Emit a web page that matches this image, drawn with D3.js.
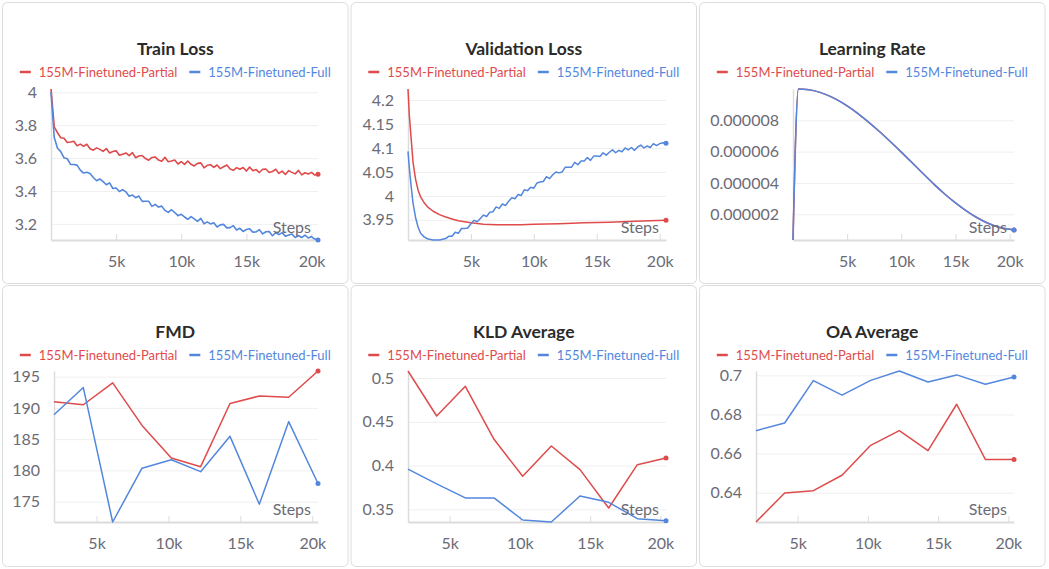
<!DOCTYPE html>
<html>
<head>
<meta charset="utf-8">
<script src="https://cdn.jsdelivr.net/npm/d3@7"></script>
<style>
  body { margin: 0; background: #fff; }
  svg { font-family: Lato, "Noto Sans", sans-serif; }
</style>
</head>
<body>
<div id="chart"></div>
<script>
// ---- Data ----
const seriesNames = ['155M-Finetuned-Partial', '155M-Finetuned-Full']

// Train loss is logged every 250 steps
const trainInterval = 250
const trainPartial = [
  4.020, 3.790, 3.754, 3.724, 3.721, 3.695, 3.698, 3.702, 3.675, 3.685,
  3.672, 3.684, 3.657, 3.648, 3.662, 3.653, 3.641, 3.658, 3.631, 3.640,
  3.644, 3.617, 3.624, 3.631, 3.615, 3.633, 3.602, 3.613, 3.616, 3.597,
  3.587, 3.604, 3.607, 3.588, 3.581, 3.605, 3.578, 3.582, 3.588, 3.564,
  3.578, 3.562, 3.582, 3.562, 3.552, 3.568, 3.571, 3.541, 3.556, 3.560,
  3.543, 3.558, 3.536, 3.547, 3.558, 3.533, 3.526, 3.542, 3.532, 3.543,
  3.521, 3.545, 3.523, 3.530, 3.512, 3.532, 3.534, 3.512, 3.518, 3.532,
  3.507, 3.521, 3.500, 3.524, 3.513, 3.504, 3.525, 3.498, 3.511, 3.503,
  3.513, 3.497, 3.502
]
const trainFull = [
  4.000, 3.725, 3.660, 3.639, 3.602, 3.596, 3.562, 3.561, 3.557, 3.527,
  3.509, 3.514, 3.506, 3.482, 3.462, 3.473, 3.457, 3.438, 3.449, 3.415,
  3.418, 3.397, 3.408, 3.395, 3.368, 3.375, 3.359, 3.369, 3.337, 3.338,
  3.338, 3.306, 3.319, 3.302, 3.308, 3.282, 3.270, 3.286, 3.269, 3.250,
  3.258, 3.242, 3.228, 3.244, 3.230, 3.215, 3.233, 3.201, 3.212, 3.200,
  3.207, 3.181, 3.194, 3.197, 3.176, 3.177, 3.189, 3.163, 3.173, 3.154,
  3.166, 3.170, 3.150, 3.151, 3.165, 3.139, 3.152, 3.153, 3.128, 3.146,
  3.135, 3.147, 3.125, 3.133, 3.138, 3.117, 3.129, 3.117, 3.132, 3.114,
  3.123, 3.108, 3.102
]

// Validation loss: [step, value]
const valPartial = [
  [0, 4.223], [100, 4.17], [250, 4.12], [400, 4.07], [600, 4.035], [800, 4.012],
  [1000, 3.998], [1300, 3.985], [1600, 3.976], [2000, 3.968], [2500, 3.961],
  [3000, 3.956], [3500, 3.952], [4000, 3.948], [5000, 3.944], [6000, 3.941],
  [7000, 3.940], [8000, 3.940], [9000, 3.940], [10000, 3.941], [12000, 3.942],
  [14000, 3.944], [16000, 3.945], [18000, 3.947], [20500, 3.949]
]
const valFull = [
  [0, 4.093], [100, 4.06], [250, 4.02], [400, 3.985], [600, 3.955], [800, 3.935],
  [1000, 3.922], [1300, 3.914], [1600, 3.910], [2000, 3.908], [2500, 3.908],
  [3000, 3.911], [3250, 3.916], [3500, 3.916], [3750, 3.924], [4000, 3.922],
  [4250, 3.932], [4500, 3.932], [4750, 3.933], [5000, 3.942], [5250, 3.949],
  [5500, 3.946], [5750, 3.953], [6000, 3.960], [6250, 3.957], [6500, 3.966],
  [6750, 3.967], [7000, 3.977], [7250, 3.974], [7500, 3.983], [7750, 3.980],
  [8000, 3.989], [8250, 3.996], [8500, 3.994], [8750, 4.003], [9000, 4.001],
  [9250, 4.013], [9500, 4.011], [9750, 4.018], [10000, 4.016], [10250, 4.027],
  [10500, 4.029], [10750, 4.030], [11000, 4.040], [11250, 4.036], [11500, 4.044],
  [11750, 4.050], [12000, 4.048], [12250, 4.050], [12500, 4.060], [12750, 4.060],
  [13000, 4.060], [13250, 4.070], [13500, 4.065], [13750, 4.073], [14000, 4.073],
  [14250, 4.080], [14500, 4.074], [14750, 4.083], [15000, 4.083], [15250, 4.082],
  [15500, 4.090], [15750, 4.085], [16000, 4.091], [16250, 4.096], [16500, 4.090],
  [16750, 4.095], [17000, 4.092], [17250, 4.100], [17500, 4.096], [17750, 4.101],
  [18000, 4.095], [18250, 4.102], [18500, 4.106], [18750, 4.100], [19000, 4.104],
  [19250, 4.101], [19500, 4.109], [19750, 4.105], [20000, 4.109], [20250, 4.111],
  [20500, 4.110]
]

// Learning rate (both runs share the same schedule)
const lrSchedule = [
  [0, 3.6e-7], [500, 1.0e-5], [1000, 9.99e-6], [2000, 9.88e-6], [3000, 9.66e-6],
  [4000, 9.34e-6], [5000, 8.92e-6], [6000, 8.43e-6], [7000, 7.87e-6], [8000, 7.27e-6],
  [9000, 6.63e-6], [10000, 5.97e-6], [11000, 5.29e-6], [12000, 4.60e-6], [13000, 3.93e-6],
  [14000, 3.30e-6], [15000, 2.73e-6], [16000, 2.22e-6], [17000, 1.78e-6], [18000, 1.43e-6],
  [19000, 1.18e-6], [20000, 1.04e-6], [20400, 1.00e-6]
]

// Evaluation metrics, logged at these steps
const evalSteps = [2040, 4080, 6120, 8160, 10200, 12240, 14280, 16320, 18360, 20400]
const fmdPartial = [191.0, 190.5, 194.0, 187.2, 182.0, 180.6, 190.7, 191.9, 191.7, 195.9]
const fmdFull = [188.9, 193.25, 171.75, 180.35, 181.7, 179.8, 185.45, 174.6, 187.8, 177.9]
const kldPartial = [0.508, 0.4566, 0.4905, 0.430, 0.3877, 0.4223, 0.3953, 0.3515, 0.401, 0.4086]
const kldFull = [0.396, 0.379, 0.363, 0.363, 0.3378, 0.3355, 0.3652, 0.358, 0.3393, 0.337]
const oaPartial = [0.625, 0.6398, 0.641, 0.6489, 0.6642, 0.6717, 0.6615, 0.6852, 0.657, 0.657]
const oaFull = [0.6717, 0.6756, 0.6973, 0.6899, 0.6974, 0.7022, 0.6966, 0.7002, 0.6954, 0.6991]

// Tick values
const xTicks = [5000, 10000, 15000, 20000]
const trainTicks = [3.2, 3.4, 3.6, 3.8, 4]
const valTicks = [3.95, 4, 4.05, 4.1, 4.15, 4.2]
const lrTicks = [0.000002, 0.000004, 0.000006, 0.000008]
const fmdTicks = [175, 180, 185, 190, 195]
const kldTicks = [0.35, 0.4, 0.45, 0.5]
const oaTicks = [0.64, 0.66, 0.68, 0.7]

// ---- Styling ----
const colors = ['#df4b4b', '#5387dd']
const tickColor = '#6b6b76'
const width = 1049
const height = 569

const svg = d3.select('#chart')
  .append('svg')
  .attr('width', width)
  .attr('height', height)

const byIndex = (values, step) => values.map((v, i) => [i * step, v])
const byStep = (values) => values.map((v, i) => [evalSteps[i], v])

// Panel boxes and plot areas
const colX = [2.5, 351, 699.5]
const rowY = [2.5, 285.5]
const boxW = 345.5
const boxH = 281

const panels = [
  { title: 'Train Loss', col: 0, row: 0, left: 51, right: 318, top: 89, bottom: 240,
    series: [byIndex(trainPartial, trainInterval), byIndex(trainFull, trainInterval)],
    yTicks: trainTicks, fmt: d3.format(''), width: 1.6 },
  { title: 'Validation Loss', col: 1, row: 0, left: 408, right: 666, top: 89, bottom: 240,
    series: [valPartial, valFull], yTicks: valTicks, fmt: d3.format(''), width: 1.5 },
  { title: 'Learning Rate', col: 2, row: 0, left: 793, right: 1014, top: 89, bottom: 240,
    series: [lrSchedule, lrSchedule], yTicks: lrTicks, fmt: d3.format('.6f'), width: 1.5,
    curve: d3.curveMonotoneX },
  { title: 'FMD', col: 0, row: 1, left: 54, right: 318, top: 371, bottom: 522,
    series: [byStep(fmdPartial), byStep(fmdFull)], yTicks: fmdTicks, fmt: d3.format(''), width: 1.5 },
  { title: 'KLD Average', col: 1, row: 1, left: 408, right: 666, top: 371, bottom: 522,
    series: [byStep(kldPartial), byStep(kldFull)], yTicks: kldTicks, fmt: d3.format(''), width: 1.5 },
  { title: 'OA Average', col: 2, row: 1, left: 756, right: 1014, top: 371, bottom: 522,
    series: [byStep(oaPartial), byStep(oaFull)], yTicks: oaTicks, fmt: d3.format(''), width: 1.5 }
]

panels.forEach(p => {
  const bx = colX[p.col]
  const by = rowY[p.row]
  const cx = bx + boxW / 2

  // Card
  svg.append('rect')
    .attr('x', bx).attr('y', by)
    .attr('width', boxW).attr('height', boxH)
    .attr('rx', 5)
    .attr('fill', '#fff')
    .attr('stroke', '#dcdcdc')

  // Title
  svg.append('text')
    .attr('x', cx).attr('y', by + 52.5)
    .attr('text-anchor', 'middle')
    .attr('font-size', 17.5)
    .attr('font-weight', 'bold')
    .attr('fill', '#2b2b2b')
    .text(p.title)

  // Legend, centred in the card
  const legend = svg.append('g')
  let lx = 0
  seriesNames.forEach((name, i) => {
    legend.append('line')
      .attr('x1', lx).attr('x2', lx + 11)
      .attr('y1', 0).attr('y2', 0)
      .attr('stroke', colors[i])
      .attr('stroke-width', 2.5)
    const t = legend.append('text')
      .attr('x', lx + 19).attr('y', 0)
      .attr('dy', '0.35em')
      .attr('font-size', 13)
      .attr('fill', colors[i])
      .text(name)
    lx += 19 + t.node().getComputedTextLength() + 12
  })
  const legendW = lx - 12
  legend.attr('transform', `translate(${cx - legendW / 2}, ${by + 69.5})`)

  // Scales
  const allPts = p.series.flat()
  const x = d3.scaleLinear()
    .domain(d3.extent(allPts, d => d[0]))
    .range([p.left, p.right])
  const y = d3.scaleLinear()
    .domain(d3.extent(allPts, d => d[1]))
    .range([p.bottom, p.top])

  // Horizontal gridlines
  svg.append('g')
    .attr('transform', `translate(${p.left}, 0)`)
    .call(d3.axisLeft(y).tickValues(p.yTicks).tickSize(-(p.right - p.left)).tickFormat(''))
    .call(g => g.select('.domain').remove())
    .call(g => g.selectAll('line').attr('stroke', '#efefef'))

  // Left axis
  svg.append('g')
    .attr('transform', `translate(${p.left}, 0)`)
    .call(d3.axisLeft(y).tickValues(p.yTicks).tickSize(0).tickPadding(14).tickFormat(p.fmt))
    .call(g => g.select('.domain').attr('stroke', '#dcdcdc').attr('stroke-width', 1.5))
    .call(g => g.selectAll('text')
      .attr('fill', tickColor)
      .attr('font-size', 16)
      .attr('font-family', 'Lato, "Noto Sans", sans-serif'))

  // Bottom axis with inward ticks
  svg.append('g')
    .attr('transform', `translate(0, ${p.bottom})`)
    .call(d3.axisBottom(x).tickValues(xTicks).tickSizeInner(-6).tickSizeOuter(0)
      .tickPadding(16).tickFormat(d => d / 1000 + 'k'))
    .call(g => g.select('.domain').attr('stroke', '#dcdcdc').attr('stroke-width', 2))
    .call(g => g.selectAll('line').attr('stroke', '#dcdcdc'))
    .call(g => g.selectAll('text')
      .attr('fill', tickColor)
      .attr('font-size', 16)
      .attr('font-family', 'Lato, "Noto Sans", sans-serif'))

  // Lines
  const line = d3.line()
    .x(d => x(d[0]))
    .y(d => y(d[1]))
    .curve(p.curve || d3.curveLinear)

  p.series.forEach((s, i) => {
    svg.append('path')
      .datum(s)
      .attr('fill', 'none')
      .attr('stroke', colors[i])
      .attr('stroke-width', p.width)
      .attr('stroke-linejoin', 'round')
      .attr('d', line)
  })

  // "Steps" axis label inside the plot
  svg.append('text')
    .attr('x', p.right - 7)
    .attr('y', p.bottom - 7)
    .attr('text-anchor', 'end')
    .attr('font-size', 16)
    .attr('fill', tickColor)
    .text('Steps')

  // End-point dots
  p.series.forEach((s, i) => {
    const last = s[s.length - 1]
    svg.append('circle')
      .attr('cx', x(last[0]))
      .attr('cy', y(last[1]))
      .attr('r', 2.5)
      .attr('fill', colors[i])
  })
})
</script>
</body>
</html>
